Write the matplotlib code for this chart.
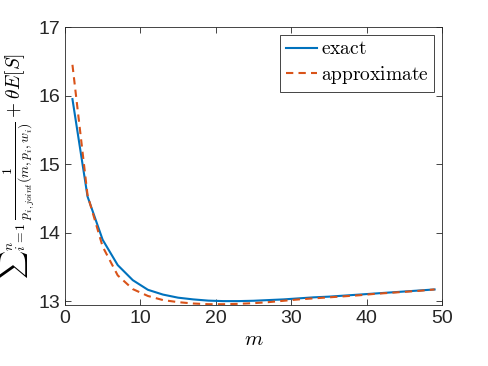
import matplotlib
matplotlib.use("Agg")
from matplotlib import pyplot as plt

plt.rcParams['mathtext.fontset'] = 'cm'
plt.rcParams['font.family'] = ['Liberation Sans', 'DejaVu Sans']

# number of groups m (odd values)
m_vals = [1, 3, 5, 7, 9, 11, 13, 15, 17, 19, 21, 23, 25, 27, 29, 31, 33, 35, 37, 39, 41, 43, 45, 47, 49]

# exact objective
exact = [15.95, 14.53, 13.90, 13.53, 13.31, 13.17, 13.10, 13.055, 13.03, 13.012, 13.005, 13.005,
         13.01, 13.02, 13.03, 13.045, 13.06, 13.07, 13.085, 13.10, 13.115, 13.13, 13.145, 13.16, 13.175]

# approximate objective
approx = [16.45, 14.55, 13.80, 13.38, 13.18, 13.08, 13.02, 12.99, 12.97, 12.96, 12.96, 12.965,
          12.975, 12.99, 13.01, 13.03, 13.045, 13.06, 13.075, 13.09, 13.11, 13.125, 13.14, 13.155, 13.175]

fig = plt.figure(figsize=(4.88, 3.66), dpi=100)
ax = fig.add_axes([0.133, 0.167, 0.773, 0.759])

ax.plot(m_vals, exact, color='#0072BD', linewidth=1.5, label=r'$\mathrm{exact}$')
ax.plot(m_vals, approx, color='#D95319', linewidth=1.5, linestyle=(0, (3.5, 2.5)),
        label=r'$\mathrm{approximate}$')

ax.set_xlim(0, 50)
ax.set_ylim(12.95, 17)
ax.set_xticks([0, 10, 20, 30, 40, 50])
ax.set_yticks([13, 14, 15, 16, 17])
ax.tick_params(direction='in', top=True, right=True, labelsize=14, colors='#262626',
               length=4, width=0.6)
for s in ax.spines.values():
    s.set_color('#262626')
    s.set_linewidth(0.6)

ax.set_xlabel(r'$m$', fontsize=15, labelpad=2)
ax.set_ylabel(r'${\sum}_{i=1}^{n}\,\frac{1}{p_{i,joint}(m,p_i,w_i)}+\theta E[S]$',
              fontsize=14)
ax.yaxis.set_label_coords(-0.074, 0.5)

leg = ax.legend(loc='upper right', fontsize=14, fancybox=False, framealpha=1,
                edgecolor='#262626', handlelength=1.6, handletextpad=0.2,
                borderpad=0.3, labelspacing=0.3, borderaxespad=0.4)
leg.get_frame().set_linewidth(0.6)

fig.savefig('out.png', dpi=100)
